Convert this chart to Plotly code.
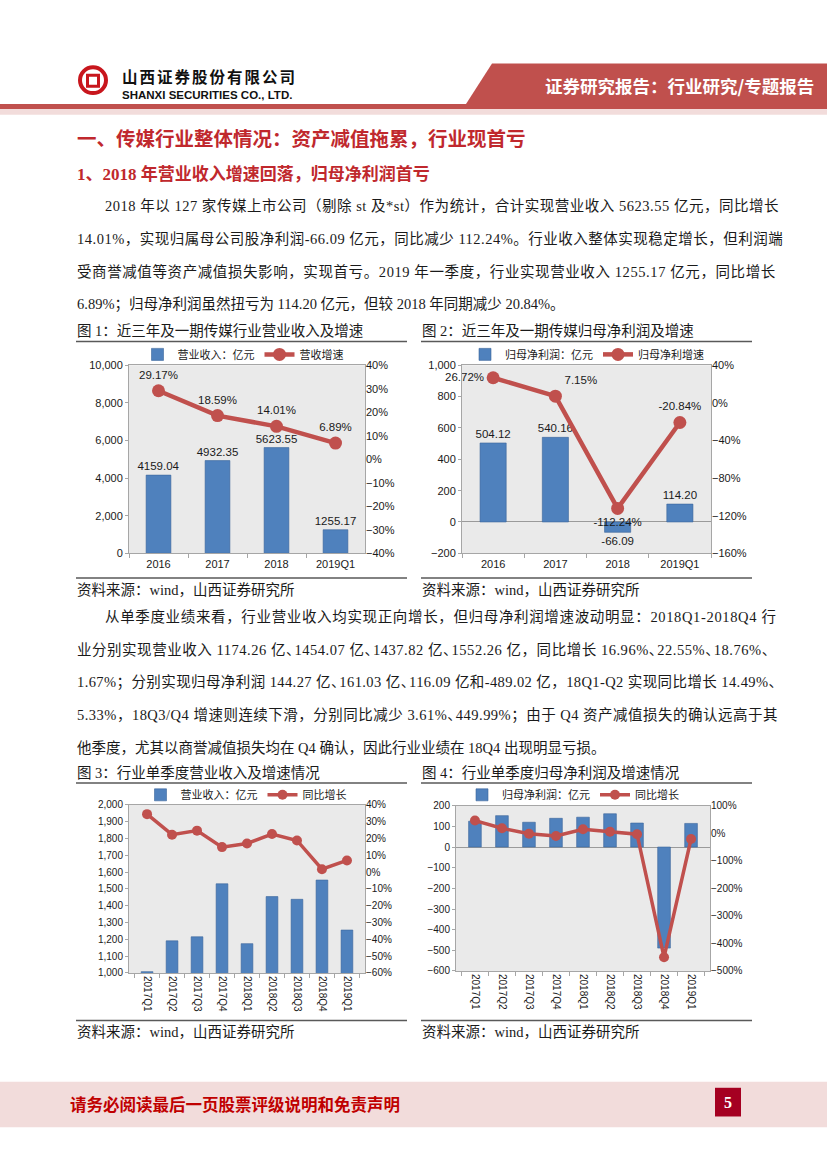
import re
import plotly.graph_objects as go

W, H = 827, 1169


def px(x):
    return x / W


def py(y):
    return 1 - y / H


# ---------------- data ----------------
years = ["2016", "2017", "2018", "2019Q1"]
revenue = [4159.04, 4932.35, 5623.55, 1255.17]
revenue_growth = [29.17, 18.59, 14.01, 6.89]
profit = [504.12, 540.16, -66.09, 114.20]
profit_growth = [26.72, 7.15, -112.24, -20.84]

quarters = ["2017Q1", "2017Q2", "2017Q3", "2017Q4", "2018Q1",
            "2018Q2", "2018Q3", "2018Q4", "2019Q1"]
q_revenue = [1008, 1191, 1215, 1530, 1174.26, 1454.07, 1437.82, 1552.26, 1255.17]
q_revenue_growth = [34.4, 22.2, 24.6, 14.8, 16.96, 22.55, 18.76, 1.67, 6.89]
q_profit = [125, 152, 120, 139, 144.27, 161.03, 116.09, -489.02, 114.20]
q_profit_growth = [46, 18, -2, -10, 14.49, 5.33, -3.61, -449.99, -20.84]

BAR = "#4F81BD"
BAR_EDGE = "#3A659A"
LINE = "#C0504D"
PLOT_BG = "#EAEAEA"
RED = "#C0282D"
TXT = "#1a1a1a"
SERIF = "Liberation Serif, Noto Sans CJK SC"
SANS = "Liberation Sans, Noto Sans CJK SC"
CJK = "Noto Sans CJK SC"

fig = go.Figure()

# ---------------- chart 1 ----------------
fig.add_trace(go.Bar(x=years, y=revenue, name="营业收入：亿元", xaxis="x", yaxis="y",
                     marker=dict(color=BAR, line=dict(color=BAR_EDGE, width=0.6)),
                     width=0.42, texttemplate="%{y:.2f}", constraintext="none",
                     textposition="outside", textfont=dict(size=11.5, color=TXT, family=SANS),
                     cliponaxis=False, legend="legend"))
fig.add_trace(go.Scatter(x=years, y=revenue_growth, name="营收增速", xaxis="x", yaxis="y2",
                         mode="lines+markers+text", line=dict(color=LINE, width=4.5),
                         marker=dict(size=13, color=LINE),
                         texttemplate="%{y:.2f}%", textposition="top center",
                         textfont=dict(size=11.5, color=TXT, family=SANS),
                         cliponaxis=False, legend="legend"))

# ---------------- chart 2 ----------------
fig.add_trace(go.Bar(x=years, y=profit, name="归母净利润：亿元", xaxis="x2", yaxis="y3",
                     marker=dict(color=BAR, line=dict(color=BAR_EDGE, width=0.6)),
                     width=0.42, texttemplate="%{y:.2f}", constraintext="none",
                     textposition="outside", textfont=dict(size=11.5, color=TXT, family=SANS),
                     cliponaxis=False, legend="legend2"))
fig.add_trace(go.Scatter(x=years, y=profit_growth, name="归母净利增速", xaxis="x2", yaxis="y4",
                         mode="lines+markers+text", line=dict(color=LINE, width=4.5),
                         marker=dict(size=13, color=LINE),
                         texttemplate="%{y:.2f}%",
                         textposition=["middle left", "top right", "bottom center", "top center"],
                         textfont=dict(size=11.5, color=TXT, family=SANS),
                         cliponaxis=False, legend="legend2"))

# ---------------- chart 3 ----------------
fig.add_trace(go.Bar(x=quarters, y=q_revenue, name="营业收入：亿元", xaxis="x3", yaxis="y5",
                     marker=dict(color=BAR, line=dict(color=BAR_EDGE, width=0.6)),
                     width=0.47, legend="legend3"))
fig.add_trace(go.Scatter(x=quarters, y=q_revenue_growth, name="同比增长", xaxis="x3", yaxis="y6",
                         mode="lines+markers", line=dict(color=LINE, width=3.5),
                         marker=dict(size=10, color=LINE), legend="legend3"))

# ---------------- chart 4 ----------------
fig.add_trace(go.Bar(x=quarters, y=q_profit, name="归母净利润：亿元", xaxis="x4", yaxis="y7",
                     marker=dict(color=BAR, line=dict(color=BAR_EDGE, width=0.6)),
                     width=0.47, legend="legend4"))
fig.add_trace(go.Scatter(x=quarters, y=q_profit_growth, name="同比增长", xaxis="x4", yaxis="y8",
                         mode="lines+markers", line=dict(color=LINE, width=3.5),
                         marker=dict(size=10, color=LINE), legend="legend4"))

tickf = dict(size=11, color=TXT, family=SANS)
tickf_s = dict(size=10, color=TXT, family=SANS)


def xax(domain, anchor, angle=0, font=tickf):
    return dict(domain=domain, anchor=anchor, type="category", showline=True, mirror=True,
                linecolor="#A6A6A6", linewidth=1, showgrid=False, ticks="outside",
                tickson="boundaries", ticklen=4, tickcolor="#A6A6A6",
                tickfont=font, tickangle=angle, fixedrange=True)


def yax(domain, anchor, rng, dtick, fmt=",", zero=False, font=tickf):
    return dict(domain=domain, anchor=anchor, range=rng, dtick=dtick, tickformat=fmt,
                showline=True, mirror=True, linecolor="#A6A6A6", linewidth=1,
                showgrid=False, zeroline=zero, zerolinecolor="#9A9A9A", zerolinewidth=1,
                ticks="outside", ticklen=3, tickcolor="#A6A6A6", tickfont=font)


def y2ax(overlay, anchor, rng, dtick, font=tickf):
    return dict(overlaying=overlay, anchor=anchor, side="right", range=rng, dtick=dtick,
                ticksuffix="%", showgrid=False, zeroline=False, showline=False,
                tickfont=font, ticks="")


d1x = [px(129), px(365)]
d2x = [px(462), px(711)]
d3x = [px(129), px(365)]
d4x = [px(456), px(710)]
dTop = [py(553), py(363)]
d3y = [py(977), py(807)]
d4y = [py(975), py(808)]


def legend(xc, yc):
    return dict(orientation="h", x=px(xc), y=py(yc), xanchor="center", yanchor="middle",
                bgcolor="rgba(0,0,0,0)", font=dict(size=11, color=TXT, family=CJK),
                itemwidth=30, tracegroupgap=0, traceorder="normal")


annotations = []
shapes = []


def text(x, y, s, size=14.5, color=TXT, family=SERIF, anchor="left", bold=False):
    if bold:
        s = "<b>" + s + "</b>"
    annotations.append(dict(x=px(x), y=py(y), xref="paper", yref="paper", text=s,
                            showarrow=False, xanchor=anchor, yanchor="middle",
                            borderpad=0, font=dict(size=size, color=color, family=family)))


def justified(s, extra):
    """spread `extra` px over the line and set the 、 mark half width."""
    ls = extra / max(len(s), 1)
    out = ""
    for part in re.split("(、)", s):
        if not part:
            continue
        if part == "、":
            out += f'<span style="letter-spacing:{ls - 6.5:.2f}px">、</span>'
        else:
            out += f'<span style="letter-spacing:{ls:.2f}px">{part}</span>'
    return out


def rect(x0, y0, x1, y1, fill, line=None):
    shapes.append(dict(type="rect", xref="paper", yref="paper", x0=px(x0), x1=px(x1),
                       y0=py(y1), y1=py(y0), fillcolor=fill,
                       line=dict(width=0) if line is None else line, layer="below"))


def hline(x0, x1, y, color="#595959", width=1.5):
    shapes.append(dict(type="line", xref="paper", yref="paper", x0=px(x0), x1=px(x1),
                       y0=py(y), y1=py(y), line=dict(color=color, width=width)))


# ---------------- header ----------------
rect(0, 99, W, 104, "#C0504D")
rect(0, 104, W, 110, "#F2DCDB")
shapes.append(dict(type="path", xref="paper", yref="paper",
                   path=f"M {px(492)},{py(58)} L {px(W)},{py(58)} L {px(W)},{py(99)} L {px(466)},{py(99)} Z",
                   fillcolor="#C0504D", line=dict(width=0)))
shapes.append(dict(type="circle", xref="paper", yref="paper", x0=px(80), x1=px(106),
                   y0=py(88), y1=py(62), line=dict(color="#C8161D", width=4)))
shapes.append(dict(type="rect", xref="paper", yref="paper", x0=px(87.5), x1=px(98.5),
                   y0=py(81), y1=py(70), line=dict(color="#C8161D", width=3)))
text(121, 71, '<span style="letter-spacing:2px">山西证券股份有限公司</span>',
     size=15.5, color="#111", family=CJK, bold=True)
text(121, 90, "SHANXI SECURITIES CO., LTD.", size=11.5, color="#111", family="Liberation Sans", bold=True)
text(815, 80, "证券研究报告：行业研究/专题报告", size=17.5, color="white", family=CJK, anchor="right", bold=True)

# ---------------- headings & paragraphs ----------------
text(76, 133, "一、传媒行业整体情况：资产减值拖累，行业现首亏", size=19.5, color=RED, family=CJK, bold=True)
text(76, 170, "1、2018 年营业收入增速回落，归母净利润首亏", size=17, color=RED, family=SERIF, bold=True)

p1 = [
    (104, "2018 年以 127 家传媒上市公司（剔除 st 及*st）作为统计，合计实现营业收入 5623.55 亿元，同比增长"),
    (76, "14.01%，实现归属母公司股净利润-66.09 亿元，同比减少 112.24%。行业收入整体实现稳定增长，但利润端"),
    (76, "受商誉减值等资产减值损失影响，实现首亏。2019 年一季度，行业实现营业收入 1255.17 亿元，同比增长"),
    (76, "6.89%；归母净利润虽然扭亏为 114.20 亿元，但较 2018 年同期减少 20.84%。"),
]
p1_extra = [31, 29, 32, 0]
for (x, s), y, e in zip(p1, [202, 235, 268, 301], p1_extra):
    text(x, y, justified(s, e))

p2 = [
    (104, "从单季度业绩来看，行业营业收入均实现正向增长，但归母净利润增速波动明显：2018Q1-2018Q4 行"),
    (76, "业分别实现营业收入 1174.26 亿、1454.07 亿、1437.82 亿、1552.26 亿，同比增长 16.96%、22.55%、18.76%、"),
    (76, "1.67%；分别实现归母净利润 144.27 亿、161.03 亿、116.09 亿和-489.02 亿，18Q1-Q2 实现同比增长 14.49%、"),
    (76, "5.33%，18Q3/Q4 增速则连续下滑，分别同比减少 3.61%、449.99%；由于 Q4 资产减值损失的确认远高于其"),
    (76, "他季度，尤其以商誉减值损失均在 Q4 确认，因此行业业绩在 18Q4 出现明显亏损。"),
]
p2_extra = [33, 40, 31, 30.5, 0]
for (x, s), y, e in zip(p2, [617, 651, 684, 717, 750], p2_extra):
    text(x, y, justified(s, e))

# ---------------- chart titles, rules, sources ----------------
text(76, 328, "图 1：近三年及一期传媒行业营业收入及增速", size=14.5)
text(421, 328, "图 2：近三年及一期传媒归母净利润及增速", size=14.5)
text(76, 775, "图 3：行业单季度营业收入及增速情况", size=14.5)
text(421, 775, "图 4：行业单季度归母净利润及增速情况", size=14.5)
hline(76, 407, 339)
hline(421, 752, 339)
hline(76, 407, 785)
hline(421, 752, 785)
hline(76, 407, 578)
hline(421, 752, 578)
hline(76, 407, 1025)
hline(421, 752, 1025)
for x, y in [(76, 590), (421, 590), (76, 1037), (421, 1037)]:
    text(x, y, "资料来源：wind，山西证券研究所", size=14.5)

# ---------------- footer ----------------
rect(0, 1087, W, 1133, "#F2DCDB")
rect(715, 1093, 741, 1122, "#A50021")
text(69, 1110, "请务必阅读最后一页股票评级说明和免责声明", size=16.5, color="#C00000", family=SERIF, bold=True)
text(728, 1108, "5", size=16, color="white", family=SERIF, anchor="center", bold=True)

fig.update_layout(
    width=W, height=H, margin=dict(l=0, r=0, t=0, b=0),
    paper_bgcolor="white", plot_bgcolor=PLOT_BG, showlegend=True, bargap=0.5,
    xaxis=xax(d1x, "y"),
    yaxis=yax(dTop, "x", [0, 10000], 2000),
    yaxis2=y2ax("y", "x", [-40, 40], 10),
    xaxis2=xax(d2x, "y3"),
    yaxis3=yax(dTop, "x2", [-200, 1000], 200, zero=True),
    yaxis4=y2ax("y3", "x2", [-160, 40], 40),
    xaxis3=xax(d3x, "y5", angle=90, font=tickf_s),
    yaxis5=yax(d3y, "x3", [1000, 2000], 100, font=tickf_s),
    yaxis6=y2ax("y5", "x3", [-60, 40], 10, font=tickf_s),
    xaxis4=xax(d4x, "y7", angle=90, font=tickf_s),
    yaxis7=yax(d4y, "x4", [-600, 200], 100, zero=True, font=tickf_s),
    yaxis8=y2ax("y7", "x4", [-500, 100], 100, font=tickf_s),
    legend=legend(243, 352),
    legend2=legend(587, 352),
    legend3=legend(246, 797),
    legend4=legend(573, 797),
    annotations=annotations,
    shapes=shapes,
)

fig.write_html("out.html", config={"displayModeBar": False},
               post_script="document.body.style.margin='0';document.body.style.overflow='hidden';")
